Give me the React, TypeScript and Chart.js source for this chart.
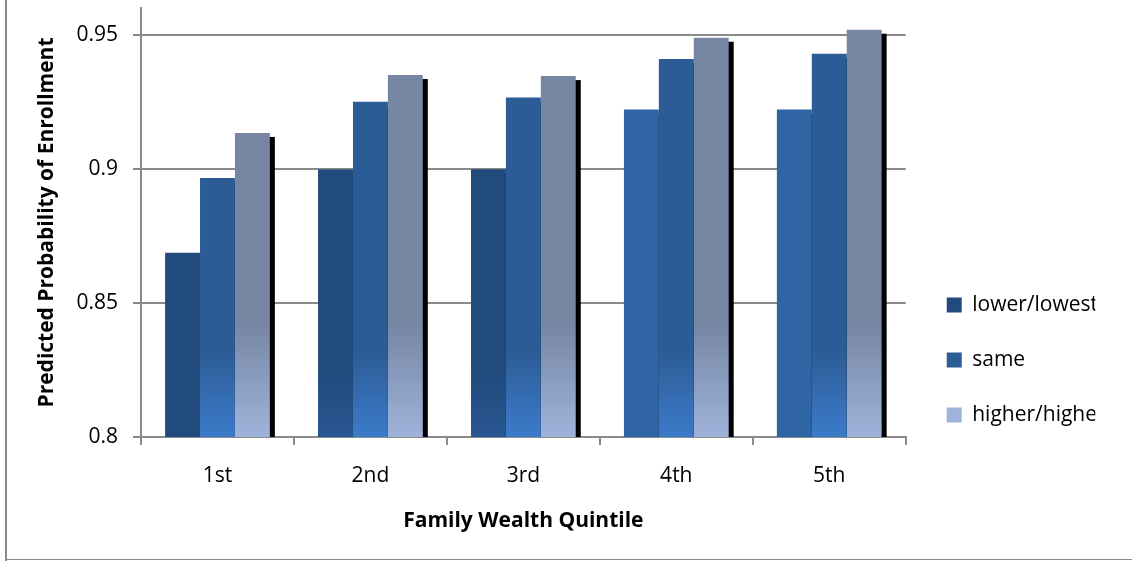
import React, { useEffect, useRef } from 'react';
import { Chart, registerables } from 'chart.js';

Chart.register(...registerables);

// ---------- data ----------
const categories = ['1st', '2nd', '3rd', '4th', '5th'];
const seriesNames = ['lower/lowest', 'same', 'higher/highe'];
const lowerValues = [0.8687, 0.8998, 0.8999, 0.9221, 0.9221];
const sameValues = [0.8966, 0.925, 0.9266, 0.941, 0.9429];
const higherValues = [0.9134, 0.935, 0.9346, 0.9489, 0.9519];
const yTickValues = [0.8, 0.85, 0.9, 0.95];
const Y_MIN = 0.8;
const Y_MAX = 0.96;
const xTitle = 'Family Wealth Quintile';
const yTitle = 'Predicted Probability of Enrollment';

// ---------- styles ----------
const FONT = '"Open Sans", sans-serif';
const GRID = '#8a8a8a';
const legendColors = ['#224B7D', '#2C5D97', '#9DB3DA'];
const lowerTop = ['#224B7D', '#224B7D', '#224B7D', '#2F65A5', '#2F65A5'];
const lowerBottom = ['#224B7D', '#285690', '#285690', '#2F65A5', '#2F65A5'];
const sameTop = ['#2C5C96', '#2C5C96', '#2C5C96', '#2C5C96', '#2C5C96'];
const sameBottom = ['#3C7BCA', '#3C7BCA', '#3C7BCA', '#3C7BCA', '#3C7BCA'];
const higherTop = ['#7686A3', '#7686A3', '#7686A3', '#7686A3', '#7686A3'];
const higherBottom = ['#9FB3DB', '#9FB3DB', '#9FB3DB', '#9FB3DB', '#9FB3DB'];

function gradientFill(top: string[], bottom: string[], span: number, legendColor: string) {
  return (ctx: any) => {
    if (ctx.type !== 'data') return legendColor;
    const chart = ctx.chart;
    const y = chart.scales && chart.scales.y;
    if (!chart.chartArea || !y) return top[ctx.dataIndex];
    const y0 = y.getPixelForValue(Y_MIN);
    const y1 = y.getPixelForValue(Y_MIN + span);
    if (!isFinite(y0) || !isFinite(y1) || y0 === y1) return top[ctx.dataIndex];
    const g = chart.ctx.createLinearGradient(0, y0, 0, y1);
    g.addColorStop(0, bottom[ctx.dataIndex]);
    g.addColorStop(1, top[ctx.dataIndex]);
    return g;
  };
}

const shadowPlugin = {
  id: 'barShadow',
  beforeDatasetsDraw(chart: any) {
    const { ctx, chartArea } = chart;
    ctx.save();
    ctx.beginPath();
    ctx.rect(chartArea.left, chartArea.top, chartArea.right - chartArea.left, chartArea.bottom - chartArea.top);
    ctx.clip();
    ctx.fillStyle = '#000000';
    chart.data.datasets.forEach((_: any, i: number) => {
      const meta = chart.getDatasetMeta(i);
      meta.data.forEach((el: any) => {
        const { x, y, width, base } = el.getProps(['x', 'y', 'width', 'base'], true);
        ctx.fillRect(x - width / 2 + 5, y + 4, width, base - y - 4);
      });
    });
    ctx.restore();
  },
};

export default function App() {
  const canvasRef = useRef<HTMLCanvasElement | null>(null);

  useEffect(() => {
    const canvas = canvasRef.current;
    if (!canvas) return;

    const legendFontSize = 21;
    const legendPad = 34;
    const boxW = 15;
    const meas = document.createElement('canvas').getContext('2d')!;
    meas.font = `normal ${legendFontSize}px ${FONT}`;
    const maxText = Math.max(...seriesNames.map((s) => meas.measureText(s).width));
    const legendWidth = legendPad + boxW + legendFontSize / 2 + maxText;
    const legendLeft = 910;
    const padRight = Math.max(0, 1132 - legendLeft - legendWidth);

    const chart = new Chart(canvas, {
      type: 'bar',
      data: {
        labels: categories,
        datasets: [
          {
            label: seriesNames[0],
            data: lowerValues,
            backgroundColor: gradientFill(lowerTop, lowerBottom, 0.025, legendColors[0]),
            borderWidth: 0,
          },
          {
            label: seriesNames[1],
            data: sameValues,
            backgroundColor: gradientFill(sameTop, sameBottom, 0.032, legendColors[1]),
            borderWidth: 0,
          },
          {
            label: seriesNames[2],
            data: higherValues,
            backgroundColor: gradientFill(higherTop, higherBottom, 0.042, legendColors[2]),
            borderWidth: 0,
          },
        ],
      },
      options: {
        responsive: false,
        animation: false,
        devicePixelRatio: 1,
        datasets: {
          bar: { categoryPercentage: 0.685, barPercentage: 1.0 },
        },
        layout: { padding: { left: 0, top: 8, right: padRight, bottom: 0 } },
        font: { family: FONT },
        plugins: {
          tooltip: { enabled: false },
          legend: {
            position: 'right',
            align: 'start',
            title: {
              display: true,
              text: ' ',
              font: { family: FONT, size: 12, lineHeight: 1.2 },
              padding: { top: 238, bottom: 0 },
            },
            labels: {
              boxWidth: boxW,
              boxHeight: 15,
              padding: legendPad,
              color: '#000000',
              font: { family: FONT, size: legendFontSize },
              generateLabels: (ch: any) => {
                const items = (Chart.defaults.plugins.legend.labels as any).generateLabels(ch);
                return items.map((it: any, i: number) => ({
                  ...it,
                  fillStyle: legendColors[i],
                  strokeStyle: legendColors[i],
                  lineWidth: 0,
                }));
              },
            },
          },
        },
        scales: {
          x: {
            type: 'category',
            grid: {
              display: true,
              drawOnChartArea: false,
              drawTicks: true,
              tickLength: 8,
              color: GRID,
              lineWidth: 2,
              offset: true,
            },
            border: { display: true, color: GRID, width: 2 },
            ticks: {
              color: '#000000',
              font: { family: FONT, size: 21 },
              padding: 18,
              maxRotation: 0,
              autoSkip: false,
            },
            title: {
              display: true,
              text: xTitle,
              color: '#000000',
              font: { family: FONT, size: 21, weight: 'bold', lineHeight: 1.2 },
              padding: { top: 0, bottom: 27 },
            },
            afterFit: (s: any) => {
              s.height = 124;
              s.paddingLeft = 0;
              s.paddingRight = 0;
            },
          },
          y: {
            type: 'linear',
            min: Y_MIN,
            max: Y_MAX,
            grid: {
              display: true,
              drawOnChartArea: true,
              drawTicks: true,
              tickLength: 8,
              color: GRID,
              lineWidth: 2,
            },
            border: { display: true, color: GRID, width: 2 },
            afterBuildTicks: (s: any) => {
              s.ticks = yTickValues.map((v) => ({ value: v }));
            },
            ticks: {
              color: '#000000',
              font: { family: FONT, size: 21 },
              padding: 15,
              callback: (v: any) => String(+Number(v).toFixed(2)),
            },
            title: {
              display: true,
              text: yTitle,
              color: '#000000',
              font: { family: FONT, size: 21, weight: 'bold', lineHeight: 1.2 },
              padding: { top: 34, bottom: 0 },
            },
            afterFit: (s: any) => {
              s.width = 141;
              s.paddingTop = 0;
              s.paddingBottom = 0;
            },
          },
          spacer: {
            type: 'linear',
            position: 'right',
            display: true,
            grid: { display: false, drawTicks: false },
            border: { display: false },
            ticks: { display: false },
            afterFit: (s: any) => {
              s.width = 7;
              s.paddingTop = 0;
              s.paddingBottom = 0;
            },
          },
        },
      },
      plugins: [shadowPlugin],
    } as any);

    return () => chart.destroy();
  }, []);

  return (
    <div
      style={{
        position: 'fixed',
        left: 0,
        top: 0,
        width: 1132,
        height: 561,
        background: '#ffffff',
        overflow: 'hidden',
      }}
    >
      <canvas
        ref={canvasRef}
        width={1132}
        height={561}
        style={{ position: 'absolute', left: 0, top: 0, width: 1132, height: 561, display: 'block' }}
      />
      <div style={{ position: 'absolute', left: 5, top: 0, width: 2, height: 561, background: GRID }} />
      <div style={{ position: 'absolute', left: 5, top: 559, width: 1127, height: 1, background: GRID }} />
    </div>
  );
}
